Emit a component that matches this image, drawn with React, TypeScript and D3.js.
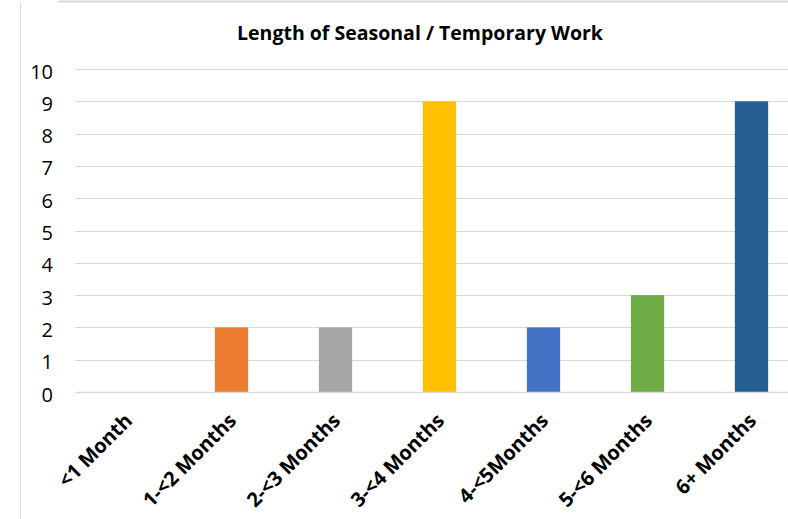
import React from "react";
import * as d3 from "d3";

const categories = ["<1 Month", "1-<2 Months", "2-<3 Months", "3-<4 Months", "4-<5Months", "5-<6 Months", "6+ Months"];
const values = [0, 2, 2, 9, 2, 3, 9];
const colors = ["#5B9BD5", "#ED7D31", "#A5A5A5", "#FFC000", "#4472C4", "#70AD47", "#255E91"];
const yTicks = [0, 1, 2, 3, 4, 5, 6, 7, 8, 9, 10];
const title = "Length of Seasonal / Temporary Work";

const W = 788;
const H = 519;

export default function App() {
  const x = d3.scaleBand<string>().domain(categories).range([75.5, 803.5]).paddingInner(0.68).paddingOuter(0.34);
  const y = d3.scaleLinear().domain([0, 10]).range([392, 69]);
  const font = "'Open Sans', 'Liberation Sans', sans-serif";
  return (
    <svg width={W} height={H} style={{ position: "absolute", left: 0, top: 0, background: "#fff" }} fontFamily={font}>
      <rect x={0} y={0} width={W} height={H} fill="#fff" />
      <line x1={20.5} x2={20.5} y1={2} y2={H} stroke="#d9d9d9" strokeWidth={1} />
      <line x1={58} x2={W} y1={1.5} y2={1.5} stroke="#d9d9d9" strokeWidth={2} />
      <text x={420} y={40} textAnchor="middle" fontWeight="bold" fontSize={19.5} fill="#000">{title}</text>
      {yTicks.map((t) => (
        <g key={t}>
          <line x1={75} x2={W} y1={Math.round(y(t)) + 0.5} y2={Math.round(y(t)) + 0.5} stroke="#d9d9d9" strokeWidth={1} />
          <text x={53} y={y(t) + 9.5} textAnchor="end" fontSize={20} fill="#000">{t}</text>
        </g>
      ))}
      {categories.map((c, i) => (
        values[i] > 0 ? (
          <rect key={c} x={x(c)} y={y(values[i])} width={x.bandwidth()} height={y(0) - y(values[i])} fill={colors[i]} />
        ) : null
      ))}
      <line x1={75} x2={W} y1={392.5} y2={392.5} stroke="#d9d9d9" strokeWidth={1.5} />
      {categories.map((c) => {
        const cx = (x(c) as number) + x.bandwidth() / 2 + 6;
        const cy = 422;
        return (
          <text key={c} x={cx} y={cy} transform={`rotate(-45 ${cx} ${cy})`} textAnchor="end" fontWeight="bold" fontSize={20} fill="#000">{c}</text>
        );
      })}
    </svg>
  );
}
